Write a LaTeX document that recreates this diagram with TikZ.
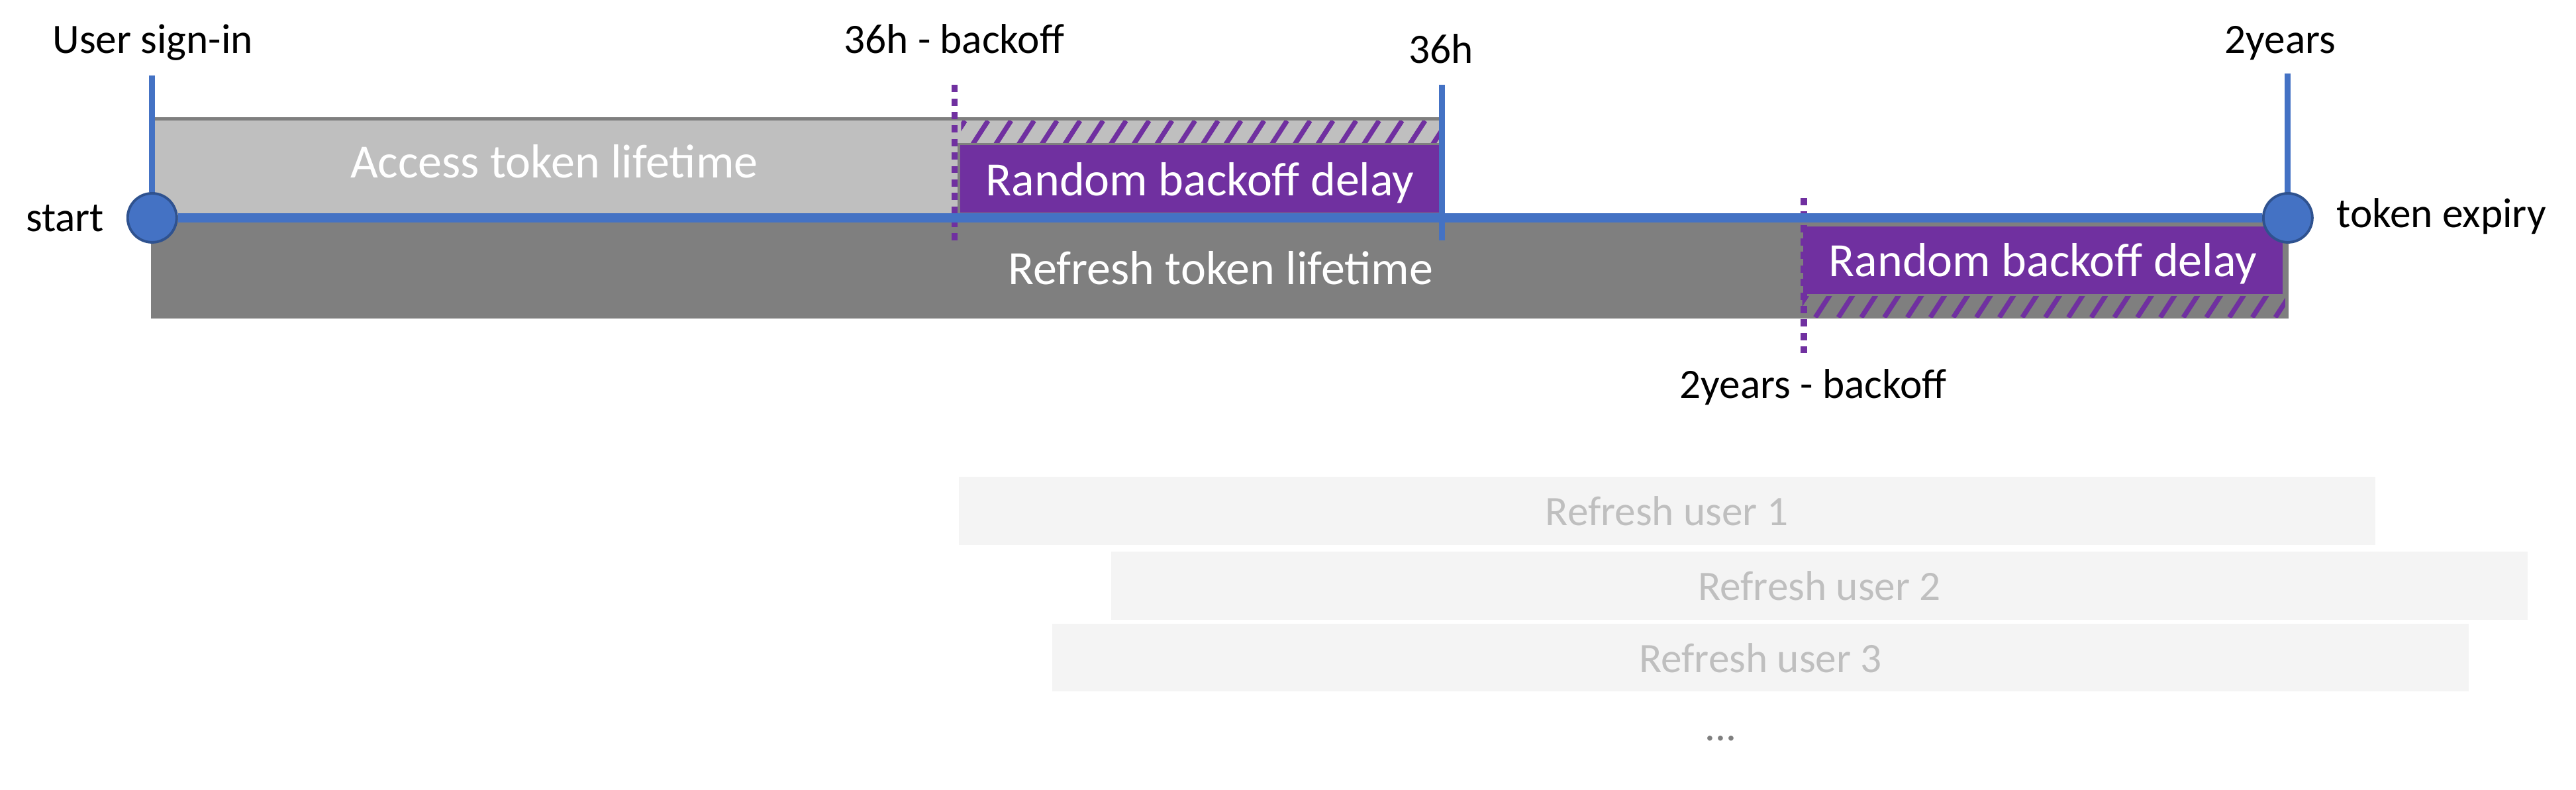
\documentclass[tikz,border=0pt]{standalone}
\usepackage{fontspec}
\setmainfont{Carlito}
\definecolor{tokenBlue}{RGB}{68, 114, 196}
\definecolor{tokenBlueDark}{RGB}{47, 82, 143}
\definecolor{tokenPurple}{RGB}{112, 48, 160}
\definecolor{accessGray}{RGB}{191, 191, 191}
\definecolor{refreshGray}{RGB}{127, 127, 127}
\definecolor{userGray}{RGB}{244, 244, 244}
\usetikzlibrary{positioning}

\begin{document}
\begin{tikzpicture}[x=0.24809mm, y=-0.24809mm,
    timeLabel/.style={font=\fontsize{18}{22}\selectfont, anchor=base, inner sep=0},
    boxLabel/.style={font=\fontsize{20.5}{25}\selectfont, text=white, anchor=base, inner sep=0},
    delayBox/.style={rectangle, fill=tokenPurple, draw=refreshGray, line width=1pt, text=white,
      minimum width=72.8mm, minimum height=10.5mm, inner sep=0, text depth=0pt,
      font=\fontsize{20.5}{25}\selectfont},
    userBox/.style={rectangle, fill=userGray, text=accessGray, minimum width=213.9mm,
      minimum height=10.27mm, inner sep=0, text depth=0pt, font=\fontsize{18}{22}\selectfont},
    endPoint/.style={circle, fill=tokenBlue, draw=tokenBlueDark, line width=1.1pt,
      minimum size=7.4mm, inner sep=0},
    blueTick/.style={tokenBlue, line width=2.6pt},
    backoffLine/.style={tokenPurple, line width=2.7pt, dash pattern=on 3.1pt off 2.7pt}]
    \useasboundingbox (0,0) rectangle (1568,480.5);

    % Lifetimes
    \filldraw[fill=accessGray, draw=refreshGray, line width=1.35pt] (93,72.4) rectangle (877.8,132);
    \fill[refreshGray] (92,132) rectangle (1393,193.8);
    \node[boxLabel] (accessLabel) at (337.3,108.2) {Access token lifetime};
    \node[boxLabel] (refreshLabel) at (743,173.3) {Refresh token lifetime};

    % Hatching
    \begin{scope}
      \clip (585,73.6) rectangle (876.5,88);
      \foreach \sx in {578,592,...,890} {
        \draw[tokenPurple, line width=2.1pt] (\sx,88) -- ++(9.4,-14.5);
      }
    \end{scope}
    \begin{scope}
      \clip (1097,179.5) rectangle (1391,193.2);
      \foreach \sx in {1091,1105,...,1400} {
        \draw[tokenPurple, line width=2.1pt] (\sx,193.2) -- ++(8.9,-13.7);
      }
    \end{scope}

    % Backoff delays
    \node[delayBox] (delayA) at (730.4,108.9) {Random backoff delay};
    \node[delayBox] (delayB) at (1243.5,158.4) {Random backoff delay};

    \coordinate (backoffATop) at (581,51.7);
    \coordinate (backoffABot) at (581,146.4);
    \coordinate (backoffBTop) at (1098,120.5);
    \coordinate (backoffBBot) at (1098,215);
    \draw[backoffLine] (backoffATop) -- (backoffABot);
    \draw[backoffLine] (backoffBTop) -- (backoffBBot);

    % Timeline
    \node[endPoint] (start) at (92.6,132.6) {};
    \node[endPoint] (expiry) at (1392.6,132.6) {};
    \coordinate (signinTop) at (92.6,46);
    \coordinate (expiryTop) at (1392.6,44.7);
    \coordinate (accessEndTop) at (877.8,51.7);
    \coordinate (accessEndBot) at (877.8,146.4);
    \draw[blueTick] (signinTop) -- (start);
    \draw[blueTick] (expiryTop) -- (expiry);
    \draw[blueTick] (accessEndTop) -- (accessEndBot);
    \draw[tokenBlue, line width=3.8pt] (start) -- (expiry);

    % Time labels
    \node[timeLabel] (signinLabel) at (93,32.3) {User sign-in};
    \node[timeLabel] (backoffALabel) at (580.7,32.3) {36h - backoff};
    \node[timeLabel] (accessEndLabel) at (877,38.3) {36h};
    \node[timeLabel] (expiryTopLabel) at (1388,32.3) {2years};
    \node[timeLabel, anchor=base east] (startLabel) at (63.6,141) {start};
    \node[timeLabel, anchor=base west] (expiryLabel) at (1422,138.3) {token expiry};
    \node[timeLabel] (backoffBLabel) at (1103.7,242.5) {2years - backoff};

    % Refreshing users
    \node[userBox] (userA) at (1014.6,310.9) {Refresh user 1};
    \node[userBox] (userB) at (1107.5,356.4) {Refresh user 2};
    \node[userBox] (userC) at (1071.6,400.3) {Refresh user 3};
    \node[timeLabel, text=refreshGray] (moreUsers) at (1047.5,451) {...};
  \end{tikzpicture}
\end{document}
